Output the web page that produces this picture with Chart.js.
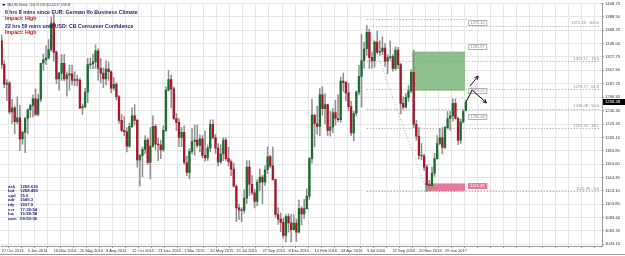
<!DOCTYPE html>
<html>
<head>
<meta charset="utf-8">
<script src="https://cdn.jsdelivr.net/npm/chart.js@4.4.1/dist/chart.umd.min.js"></script>
<style>
  html, body { margin: 0; padding: 0; background: #fff; }
  #wrap { width: 625px; height: 256px; position: relative; }
</style>
</head>
<body>
<div id="wrap"><canvas id="chart"></canvas></div>
<script>
// XAUUSD weekly bars, week of 27 Oct 2013 .. week of 26 Mar 2017
var opens = [1352,1316,1286,1288,1244,1250,1229,1235,1203,1213,1234,1247,1254,1264,1240,1263,1318,1323,1326,1339,
  1379,1335,1294,1303,1318,1294,1300,1302,1292,1293,1292,1250,1252,1274,1316,1317,1320,1337,1310,1303,
  1294,1309,1305,1280,1286,1267,1231,1216,1214,1192,1222,1238,1231,1171,1178,1187,1201,1167,1192,1222,
  1195,1194,1186,1216,1277,1293,1279,1234,1228,1205,1213,1167,1152,1184,1199,1201,1193,1203,1178,1174,
  1189,1225,1205,1189,1168,1180,1201,1173,1168,1157,1131,1098,1095,1094,1113,1160,1134,1121,1108,1137,
  1145,1137,1156,1176,1162,1141,1088,1081,1076,1056,1085,1075,1065,1075,1061,1097,1089,1097,1116,1173,
  1239,1226,1222,1270,1249,1255,1216,1221,1243,1234,1232,1291,1289,1273,1252,1212,1242,1274,1298,1322,
  1340,1365,1327,1322,1350,1335,1336,1341,1321,1327,1328,1310,1338,1316,1257,1251,1266,1276,1304,1225,
  1207,1178,1177,1160,1133,1132,1151,1173,1196,1205,1190,1220,1234,1238,1257,1234,1201,1229,1245.78];
var highs = [1361,1322,1293,1290,1263,1253,1267,1254,1215,1236,1249,1256,1270,1279,1271,1318,1332,1345,1354,1388,
  1392,1337,1304,1331,1331,1305,1315,1315,1305,1300,1295,1256,1280,1325,1326,1332,1346,1340,1325,1311,
  1322,1320,1307,1296,1289,1269,1240,1237,1220,1227,1250,1255,1233,1179,1191,1208,1204,1220,1238,1225,
  1204,1201,1223,1282,1307,1300,1282,1242,1234,1220,1223,1177,1188,1219,1224,1224,1209,1208,1215,1194,
  1232,1232,1210,1196,1194,1205,1205,1190,1171,1166,1133,1104,1098,1126,1170,1170,1147,1126,1141,1157,
  1148,1162,1191,1178,1191,1142,1098,1090,1082,1088,1089,1088,1088,1081,1110,1100,1111,1127,1175,1263,
  1240,1253,1280,1282,1272,1256,1245,1249,1262,1270,1297,1303,1290,1288,1260,1245,1276,1315,1362,1350,
  1375.18,1370,1335,1352,1367,1352,1358,1348,1331,1352,1331,1343,1342,1318,1267,1272,1284,1308,1338,1231,
  1220,1196,1180,1164,1140,1160,1181,1208,1219,1220,1222,1245,1245,1264,1264,1236,1233,1248,1261.84];
var lows = [1310,1281,1261,1241,1226,1211,1226,1185,1195,1182,1211,1236,1236,1238,1238,1259,1307,1316,1324,1336,
  1321,1287,1277,1292,1291,1268,1277,1285,1284,1283,1249,1240,1250,1258,1310,1310,1310,1292,1288,1281,
  1285,1292,1273,1277,1262,1227,1214,1208,1183,1190,1220,1225,1160,1131,1145,1180,1164,1142,1190,1186,
  1170,1173,1184,1214,1276,1250,1232,1216,1191,1191,1164,1147,1142,1180,1178,1190,1183,1174,1169,1170,
  1183,1203,1181,1162,1166,1170,1170,1162,1147,1130,1077,1080,1077,1090,1105,1117,1118,1098,1101,1124,
  1104,1132,1150,1159,1140,1084,1073,1062,1052,1046,1061,1046,1064,1047,1060,1072,1082,1096,1111,1166,
  1191,1210,1208,1239,1226,1208,1207,1212,1224,1229,1228,1275,1261,1246,1208,1200,1238,1270,1251,1310,
  1330,1310,1310,1312,1332,1330,1331,1313,1302,1323,1306,1308,1310,1241,1247,1250,1260,1273,1220,1201,
  1172,1171,1155,1122.99,1124,1128,1146,1172,1194,1180,1188,1218,1216,1230,1233,1194,1196,1227,1245.67];
var closes = [1316,1286,1288,1244,1250,1229,1235,1203,1213,1234,1247,1254,1264,1240,1263,1318,1323,1326,1339,1379,
  1335,1294,1303,1318,1294,1300,1302,1292,1293,1292,1250,1252,1274,1316,1317,1320,1337,1310,1303,1294,
  1309,1305,1280,1286,1267,1231,1216,1214,1192,1222,1238,1231,1171,1178,1187,1201,1167,1192,1222,1195,
  1194,1186,1216,1277,1293,1279,1234,1228,1205,1213,1167,1152,1184,1199,1201,1193,1203,1178,1174,1189,
  1225,1205,1189,1168,1180,1201,1173,1168,1157,1131,1098,1095,1094,1113,1160,1134,1121,1108,1137,1145,
  1137,1156,1176,1162,1141,1088,1081,1076,1056,1085,1075,1065,1075,1061,1097,1089,1097,1116,1173,1239,
  1226,1222,1270,1249,1255,1216,1221,1243,1234,1232,1291,1289,1273,1252,1212,1242,1274,1298,1322,1340,
  1365,1327,1322,1350,1335,1336,1341,1321,1327,1328,1310,1338,1316,1257,1251,1266,1276,1304,1225,1207,
  1178,1177,1160,1133,1132,1151,1173,1196,1205,1190,1220,1234,1238,1257,1234,1201,1229,1245,1258.48];

// one date label every 10 bars
var dateLabels = ['27 Oct 2013','5 Jan 2014','16 Mar 2014','25 May 2014','3 Aug 2014','12 Oct 2014',
  '21 Dec 2014','1 Mar 2015','10 May 2015','19 Jul 2015','27 Sep 2015','6 Dec 2015','14 Feb 2016',
  '24 Apr 2016','3 Jul 2016','11 Sep 2016','20 Nov 2016','29 Jan 2017'];
var priceTicks = [1043.10,1063.35,1083.60,1103.85,1124.10,1144.35,1164.60,1184.85,1205.10,1225.35,
  1246.30,1266.55,1287.25,1307.50,1327.75,1348.00,1368.25,1388.50,1408.75];

// fibo retracement from the Jul 2016 high to the Dec 2016 low
var fibPrices = [1375.18, 1321.17, 1278.77, 1249.08, 1219.32, 1122.99];
var fibNames = ['100.0', '78.6', '61.8', '50.0', '38.2', '0.0'];
var fibFrom = 140, fibTo = 163;

// objects drawn on the chart (bar index / price)
var greenBox = { x0: 157.4, x1: 177.7, p0: 1276.2, p1: 1335.8 };
var pinkBox = { x0: 162.4, x1: 177.7, p0: 1123.4, p1: 1135.3 };
var topLine = { x0: 140, x1: 178.8, p: 1384.6 };
var priceTags = [
  { p: 1378.5, t: '1378.46' }, { p: 1342.5, t: '1335.87' }, { p: 1276.2, t: '1276.25' },
  { p: 1236.0, t: '1236.08' }, { p: 1131.5, t: '1123.43', pink: true }
];
var zigzag = [[178.1, 1259.2], [180.4, 1277.3], [185.9, 1257.7]];
var upArrow = [[179.6, 1283.3], [182.7, 1298.5]];

var infoNames = ['ask', 'bid', 'spd', 'adr', 'tdy', 'svr', 'loc', 'own'];
var infoValues = ['1258.630', '1258.480', '15.0', '1549.3', '1537.0', '17:39:54', '15:58:58', '09:50:06'];

var upColor = '#1d6e31';
var downColor = '#a8172c';
var FONT = '"Liberation Sans", Arial, sans-serif';

var wickData = lows.map(function (l, i) { return { x: i, y: [l, highs[i]] }; });
var bodyData = opens.map(function (o, i) {
    var c = closes[i];
    if (Math.abs(o - c) < 0.8) { c = o + 0.8; }
    return { x: i, y: [o, c] };
});
var bodyColors = opens.map(function (o, i) { return closes[i] >= o ? upColor : downColor; });

function arrowHead(ctx, x0, y0, x1, y1) {
    var a = Math.atan2(y1 - y0, x1 - x0), s = 4;
    ctx.beginPath();
    ctx.moveTo(x1, y1);
    ctx.lineTo(x1 - s * Math.cos(a - 0.45), y1 - s * Math.sin(a - 0.45));
    ctx.moveTo(x1, y1);
    ctx.lineTo(x1 - s * Math.cos(a + 0.45), y1 - s * Math.sin(a + 0.45));
    ctx.stroke();
}

var objectsPlugin = {
    id: 'objects',
    beforeDraw: function (chart) {
        var ctx = chart.ctx;
        ctx.save();
        ctx.fillStyle = '#ffffff';
        ctx.fillRect(0, 0, chart.width, chart.height);
        ctx.restore();
    },
    beforeDatasetsDraw: function (chart) {
        var ctx = chart.ctx, xs = chart.scales.x, ys = chart.scales.y, area = chart.chartArea;
        ctx.save();
        ctx.beginPath();
        ctx.rect(area.left, area.top, area.right - area.left, area.bottom - area.top);
        ctx.clip();

        // rectangles
        ctx.fillStyle = '#8cbf8c';
        ctx.fillRect(xs.getPixelForValue(greenBox.x0), ys.getPixelForValue(greenBox.p1),
            xs.getPixelForValue(greenBox.x1) - xs.getPixelForValue(greenBox.x0),
            ys.getPixelForValue(greenBox.p0) - ys.getPixelForValue(greenBox.p1));
        ctx.fillStyle = '#e4799b';
        ctx.fillRect(xs.getPixelForValue(pinkBox.x0), ys.getPixelForValue(pinkBox.p1),
            xs.getPixelForValue(pinkBox.x1) - xs.getPixelForValue(pinkBox.x0),
            ys.getPixelForValue(pinkBox.p0) - ys.getPixelForValue(pinkBox.p1));

        // fibo levels
        ctx.strokeStyle = '#9a9a9a';
        ctx.lineWidth = 1;
        ctx.setLineDash([1, 2]);
        var fx = xs.getPixelForValue(fibFrom);
        fibPrices.forEach(function (p) {
            var y = Math.round(ys.getPixelForValue(p)) + 0.5;
            ctx.beginPath();
            ctx.moveTo(fx, y);
            ctx.lineTo(area.right - 2, y);
            ctx.stroke();
        });
        var ty = Math.round(ys.getPixelForValue(topLine.p)) + 0.5;
        ctx.beginPath();
        ctx.moveTo(xs.getPixelForValue(topLine.x0), ty);
        ctx.lineTo(xs.getPixelForValue(topLine.x1), ty);
        ctx.stroke();

        // fibo trend line
        ctx.strokeStyle = '#c9a0a8';
        ctx.beginPath();
        ctx.moveTo(xs.getPixelForValue(fibFrom), ys.getPixelForValue(fibPrices[0]));
        ctx.lineTo(xs.getPixelForValue(fibTo), ys.getPixelForValue(fibPrices[5]));
        ctx.stroke();
        ctx.restore();
    },
    afterDraw: function (chart) {
        var ctx = chart.ctx, xs = chart.scales.x, ys = chart.scales.y, area = chart.chartArea;
        ctx.save();

        // fibo labels
        ctx.font = '4px ' + FONT;
        ctx.fillStyle = '#8a8a8a';
        ctx.textAlign = 'right';
        ctx.textBaseline = 'bottom';
        fibPrices.forEach(function (p, i) {
            var y = ys.getPixelForValue(p);
            ctx.fillText(p.toFixed(2) + ' : ' + fibNames[i], area.right - 3, y - 0.5);
        });

        // object price tags
        ctx.textAlign = 'left';
        ctx.textBaseline = 'middle';
        priceTags.forEach(function (t) {
            var x = xs.getPixelForValue(178.9), y = Math.round(ys.getPixelForValue(t.p));
            ctx.fillStyle = t.pink ? '#e4799b' : '#ffffff';
            ctx.fillRect(x, y - 3, 19, 6);
            ctx.strokeStyle = t.pink ? '#e4799b' : '#b0b0b0';
            ctx.lineWidth = 1;
            ctx.strokeRect(x + 0.5, y - 2.5, 18, 5);
            ctx.fillStyle = t.pink ? '#ffffff' : '#8a8a8a';
            ctx.fillText(t.t, x + 2, y + 0.3);
        });

        // arrows
        ctx.strokeStyle = '#111111';
        ctx.lineWidth = 1;
        ctx.beginPath();
        zigzag.forEach(function (pt, i) {
            var x = xs.getPixelForValue(pt[0]), y = ys.getPixelForValue(pt[1]);
            if (i === 0) ctx.moveTo(x, y); else ctx.lineTo(x, y);
        });
        ctx.stroke();
        var n = zigzag.length;
        arrowHead(ctx, xs.getPixelForValue(zigzag[n - 2][0]), ys.getPixelForValue(zigzag[n - 2][1]),
            xs.getPixelForValue(zigzag[n - 1][0]), ys.getPixelForValue(zigzag[n - 1][1]));
        var ax0 = xs.getPixelForValue(upArrow[0][0]), ay0 = ys.getPixelForValue(upArrow[0][1]);
        var ax1 = xs.getPixelForValue(upArrow[1][0]), ay1 = ys.getPixelForValue(upArrow[1][1]);
        ctx.beginPath();
        ctx.moveTo(ax0, ay0);
        ctx.lineTo(ax1, ay1);
        ctx.stroke();
        arrowHead(ctx, ax0, ay0, ax1, ay1);

        // current bid tag on the price scale
        var last = closes[closes.length - 1];
        var by = Math.round(ys.getPixelForValue(last));
        ctx.fillStyle = '#000000';
        ctx.fillRect(area.right + 1, by - 3, chart.width - area.right - 1, 6);
        ctx.fillStyle = '#ffffff';
        ctx.font = '4.2px ' + FONT;
        ctx.fillText(last.toFixed(2), area.right + 3, by + 0.3);

        // header
        var k = opens.length - 1;
        ctx.fillStyle = '#222222';
        ctx.beginPath();
        ctx.moveTo(2, 4); ctx.lineTo(5.5, 4); ctx.lineTo(3.75, 6.2); ctx.closePath();
        ctx.fill();
        ctx.font = '2.7px ' + FONT;
        ctx.fillStyle = '#333333';
        ctx.fillText('XAUUSD,Weekly  ' + opens[k].toFixed(2) + ' ' + highs[k].toFixed(2) + ' ' +
            lows[k].toFixed(2) + ' ' + closes[k].toFixed(2), 7, 5);

        ctx.font = 'bold 5.2px ' + FONT;
        ctx.fillStyle = '#1c1c7a';
        ctx.fillText('6 hrs 8 mins since EUR: German Ifo Business Climate', 5, 13);
        ctx.fillStyle = '#d01414';
        ctx.fillText('Impact: High', 5, 18.5);
        ctx.fillStyle = '#1c1c7a';
        ctx.fillText('22 hrs 50 mins until USD: CB Consumer Confidence', 5, 27);
        ctx.fillStyle = '#d01414';
        ctx.fillText('Impact: High', 5, 32.5);

        // info block
        ctx.font = 'bold 4.3px ' + FONT;
        ctx.fillStyle = '#1c1c7a';
        infoNames.forEach(function (name, i) {
            var y = 186.5 + i * 4.6;
            ctx.fillText(name, 8, y);
            ctx.fillText(infoValues[i], 20, y);
        });

        // frame
        ctx.strokeStyle = '#9a9a9a';
        ctx.beginPath();
        ctx.moveTo(0, 254.5); ctx.lineTo(chart.width, 254.5);
        ctx.stroke();
        ctx.restore();
    }
};

new Chart(document.getElementById('chart'), {
    type: 'bar',
    data: {
        datasets: [{
            label: 'range',
            data: wickData,
            backgroundColor: '#909090',
            barThickness: 0.9,
            grouped: false,
            order: 2
        }, {
            label: 'body',
            data: bodyData,
            backgroundColor: bodyColors,
            barThickness: 1.7,
            grouped: false,
            order: 1
        }]
    },
    options: {
        responsive: true,
        maintainAspectRatio: false,
        animation: false,
        events: [],
        layout: { padding: { left: 1, top: 1, right: 0, bottom: 0 } },
        plugins: { legend: { display: false }, tooltip: { enabled: false } },
        scales: {
            x: {
                type: 'linear',
                min: -0.25,
                max: 230.2,
                offset: false,
                afterBuildTicks: function (scale) {
                    var t = [];
                    for (var i = 0; i <= 230; i += 5) t.push({ value: i });
                    scale.ticks = t;
                },
                afterFit: function (scale) { scale.height = 10; },
                grid: { color: '#e6e6e6', lineWidth: 1, tickLength: 2, tickColor: '#9a9a9a' },
                border: { color: '#9a9a9a' },
                ticks: {
                    autoSkip: false,
                    maxRotation: 0,
                    align: 'start',
                    padding: 0,
                    color: '#333333',
                    font: { family: FONT, size: 4 },
                    callback: function (v) {
                        if (v % 10 === 0 && v / 10 < dateLabels.length) return dateLabels[v / 10];
                        return '';
                    }
                }
            },
            y: {
                type: 'linear',
                position: 'right',
                min: 1040.08,
                max: 1408.8,
                afterBuildTicks: function (scale) {
                    scale.ticks = priceTicks.map(function (v) { return { value: v }; });
                },
                afterFit: function (scale) { scale.width = 23; },
                grid: { color: '#e6e6e6', lineWidth: 1, tickLength: 2, tickColor: '#9a9a9a' },
                border: { color: '#9a9a9a' },
                ticks: {
                    padding: 1,
                    color: '#333333',
                    font: { family: FONT, size: 4.2 },
                    callback: function (v) { return v.toFixed(2); }
                }
            }
        }
    },
    plugins: [objectsPlugin]
});
</script>
</body>
</html>
